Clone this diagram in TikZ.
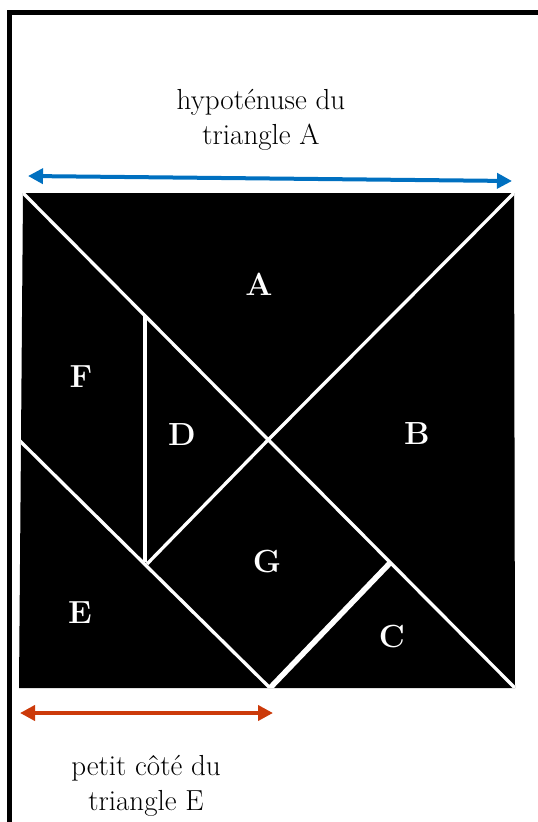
\documentclass[tikz,border=0pt]{standalone}
\usepackage{tikz}
\usetikzlibrary{arrows.meta}
\definecolor{hypblue}{RGB}{0,112,192}
\definecolor{sidered}{RGB}{204,58,10}

\begin{document}
\begin{tikzpicture}[x=1pt, y=-1pt, font=\fontsize{29}{35}\selectfont]
    \useasboundingbox (0,0) rectangle (538,822);
    % page frame
    \draw[line width=5pt] (9.5,822) -- (9.5,12.5) -- (538,12.5);
    % tangram square
    \fill (23,193) -- (514,193) -- (515,688) -- (19,688) -- cycle;
    \coordinate (mid) at (268,440);
    \begin{scope}
      \clip (23,193) -- (514,193) -- (515,688) -- (19,688) -- cycle;
      \draw[white, line width=3.3pt] (23,193) -- (515,688);
      \draw[white, line width=3.3pt] (mid) -- (514,193);
      \draw[white, line width=3.3pt] (145,316) -- (145,562);
      \draw[white, line width=3.3pt] (mid) -- (147,564);
      \draw[white, line width=3.3pt] (19,440) -- (270,688);
      \draw[white, line width=5.5pt] (270,688) -- (390,563);
    \end{scope}
    % piece letters
    \node[white, font=\fontsize{32}{38}\selectfont\bfseries] (A) at (259,284) {A};
    \node[white, font=\fontsize{32}{38}\selectfont\bfseries] (B) at (417,434) {B};
    \node[white, font=\fontsize{32}{38}\selectfont\bfseries] (C) at (392,637) {C};
    \node[white, font=\fontsize{32}{38}\selectfont\bfseries] (D) at (182,435) {D};
    \node[white, font=\fontsize{32}{38}\selectfont\bfseries] (E) at (80,613) {E};
    \node[white, font=\fontsize{32}{38}\selectfont\bfseries] (F) at (81,377) {F};
    \node[white, font=\fontsize{32}{38}\selectfont\bfseries] (G) at (267,562) {G};
    % hypotenuse of A
    \coordinate (hypL) at (28,176);
    \coordinate (hypR) at (512,181);
    \draw[hypblue, line width=4pt, {Triangle[length=15pt,width=15pt]}-{Triangle[length=15pt,width=15pt]}] (hypL) -- (hypR);
    \node[align=center] (hyp) at (261,120) {hypoténuse du\\triangle A};
    % short side of E
    \coordinate (sideL) at (20,713);
    \coordinate (sideR) at (273,713);
    \draw[sidered, line width=4pt, {Triangle[length=15pt,width=15pt]}-{Triangle[length=15pt,width=15pt]}] (sideL) -- (sideR);
    \node[align=center] (side) at (146,786) {petit côté du\\triangle E};
\end{tikzpicture}
\end{document}
